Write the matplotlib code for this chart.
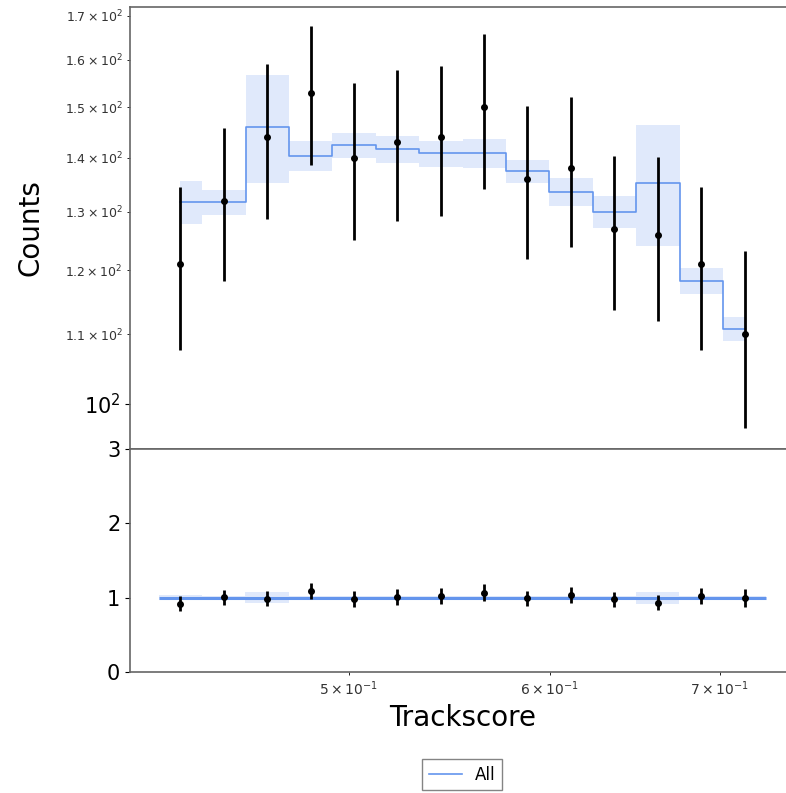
import matplotlib
matplotlib.use("Agg")
import matplotlib.pyplot as plt
import numpy as np

# bin centres (Trackscore), equally spaced on the log axis
x = np.array([0.4292, 0.4464, 0.4643, 0.4830, 0.5023, 0.5225, 0.5435,
              0.5653, 0.5880, 0.6116, 0.6361, 0.6617, 0.6883, 0.7160])

# data points with errors
data = np.array([121, 132, 144, 153, 140, 143, 144, 150, 136, 138, 127, 126, 121, 110])
data_err = np.array([13.4, 13.8, 15.2, 14.5, 15.0, 14.7, 14.7, 15.8, 14.2, 14.1,
                     13.3, 14.1, 13.4, 13.2])

# simulation (step line) and its uncertainty
mc = np.array([131.7, 131.7, 146.0, 140.3, 142.4, 141.6, 140.8, 140.8, 137.4,
               133.6, 130.0, 135.2, 118.3, 110.8])
mc_err = np.array([3.9, 2.3, 10.7, 2.9, 2.4, 2.6, 2.5, 2.8, 2.2, 2.5, 2.8, 11.2, 2.1, 1.8])

blue = "cornflowerblue"
spine_col = "#666666"

fig = plt.figure(figsize=(7.86, 7.93), dpi=100)
ax = fig.add_axes([0.1654, 0.4338, 0.847, 0.5574])
rax = fig.add_axes([0.1654, 0.1526, 0.847, 0.2812], sharex=ax)

# top panel
ax.fill_between(x, mc - mc_err, mc + mc_err, step="mid", color=blue, alpha=0.2, lw=0)
ax.step(x, mc, where="mid", color=blue, lw=1.2, label="All")
ax.errorbar(x, data, yerr=data_err, fmt="o", color="black", ms=4, elinewidth=2, capsize=0)
ax.set_xscale("log")
ax.set_yscale("log")
ax.set_xlim(0.41, 0.75)
ax.set_ylim(94, 172)
ax.set_ylabel("Counts", fontsize=20)
ax.yaxis.set_label_coords(-0.128, 0.5)
ax.tick_params(axis="x", which="both", bottom=False, labelbottom=False)
ax.tick_params(axis="y", which="major", labelsize=15)
ax.tick_params(axis="y", which="minor", labelsize=9, labelcolor="#333333")

# ratio panel
edges = np.concatenate([[x[0] ** 1.5 / x[1] ** 0.5], np.sqrt(x[:-1] * x[1:]),
                        [x[-1] ** 1.5 / x[-2] ** 0.5]])
rel = mc_err / mc
rax.fill_between(edges, np.r_[1 - rel, 1 - rel[-1]], np.r_[1 + rel, 1 + rel[-1]],
                 step="post", color=blue, alpha=0.2, lw=0)
rax.stairs(np.ones(len(x)), edges, color=blue, lw=2.2, baseline=None)
rax.errorbar(x, data / mc, yerr=data_err / mc, fmt="o", color="black", ms=4,
             elinewidth=2, capsize=0)
rax.set_ylim(0, 3)
rax.set_yticks([0, 1, 2, 3])
rax.set_xlabel("Trackscore", fontsize=20)
rax.tick_params(axis="y", labelsize=15)
rax.tick_params(axis="x", which="minor", labelsize=10, labelcolor="#333333")

for a in (ax, rax):
    for s in a.spines.values():
        s.set_color(spine_col)
        s.set_linewidth(1.2)

fig.legend(loc="center", bbox_to_anchor=(0.588, 0.023), fontsize=12,
           fancybox=False, edgecolor=spine_col)

fig.savefig("out.png", dpi=100)
